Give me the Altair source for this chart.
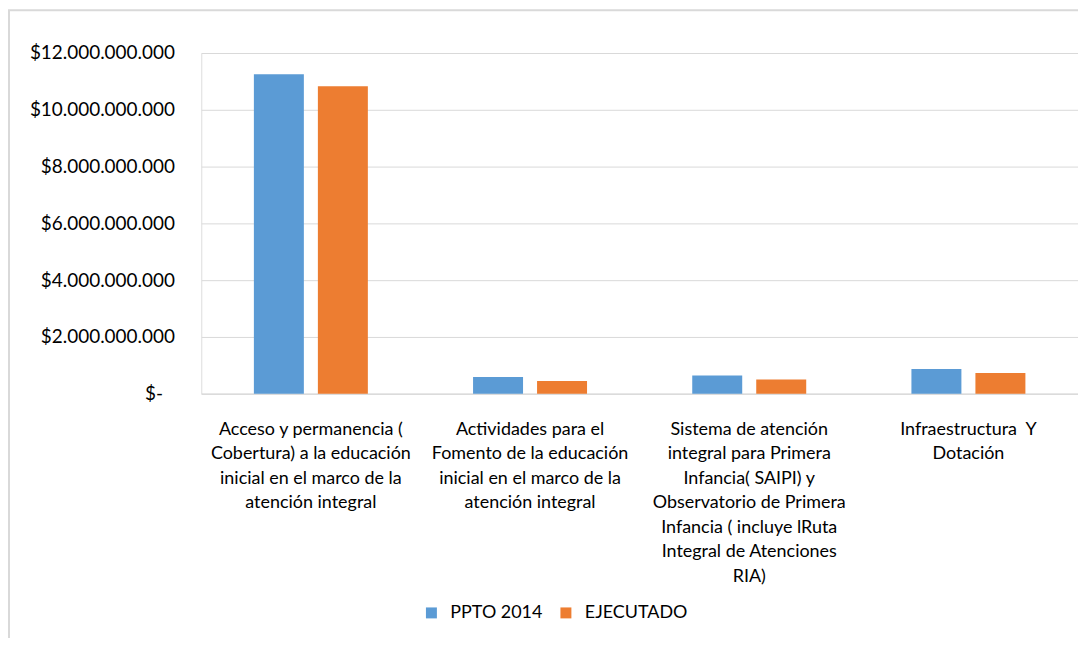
import altair as alt
import pandas as pd

categories = [
    "Acceso y permanencia (\nCobertura) a la educación\ninicial en el marco de la\natención integral",
    "Actividades para el\nFomento de la educación\ninicial en el marco de la\natención integral",
    "Sistema de atención\nintegral para Primera\nInfancia( SAIPI) y\nObservatorio de Primera\nInfancia ( incluye lRuta\nIntegral de Atenciones\nRIA)",
    "Infraestructura\u00a0 Y\nDotación",
]
series = ["PPTO 2014", "EJECUTADO"]
ppto_2014 = [11.25e9, 0.59e9, 0.64e9, 0.87e9]
ejecutado = [10.83e9, 0.45e9, 0.50e9, 0.73e9]
y_ticks = [0, 2e9, 4e9, 6e9, 8e9, 10e9, 12e9]
colors = ["#5B9BD5", "#ED7D31"]

rows = []
for c, p, e in zip(categories, ppto_2014, ejecutado):
    rows.append({"cat": c, "serie": series[0], "valor": p})
    rows.append({"cat": c, "serie": series[1], "valor": e})
df = pd.DataFrame(rows)

W, H = 880, 342
FONT = "Lato"

y_label_expr = (
    "datum.value == 0 ? '$-' : '$' + "
    "replace(replace(replace(format(datum.value, ','), ',', '.'), ',', '.'), ',', '.')"
)

bars = alt.Chart(df).mark_bar().encode(
    x=alt.X(
        "cat:N",
        sort=categories,
        scale=alt.Scale(paddingInner=0.48, paddingOuter=0.24),
        axis=alt.Axis(
            title=None,
            labelAngle=0,
            labelExpr="split(datum.label, '\\n')",
            labelFont=FONT,
            labelFontSize=18,
            labelColor="#000000",
            labelLineHeight=24.5,
            labelPadding=27,
            labelBaseline="top",
            ticks=False,
            tickSize=0,
            domainColor="#d9d9d9",
            domainWidth=1,
            labelLimit=0,
        ),
    ),
    xOffset=alt.XOffset("serie:N", sort=series, scale=alt.Scale(paddingInner=0.219)),
    y=alt.Y(
        "valor:Q",
        scale=alt.Scale(domain=[0, 12e9]),
        axis=alt.Axis(
            values=y_ticks,
            title=None,
            labelExpr=y_label_expr,
            grid=True,
            gridColor="#d9d9d9",
            domain=False,
            ticks=False,
            tickSize=0,
            labelPadding={"condition": {"test": "datum.value == 0", "value": 39}, "value": 27},
            labelFont=FONT,
            labelFontSize=19,
            labelColor="#000000",
        ),
    ),
    color=alt.Color(
        "serie:N",
        sort=series,
        scale=alt.Scale(domain=series, range=colors),
        legend=alt.Legend(
            orient="none",
            legendX=222,
            legendY=553,
            direction="horizontal",
            title=None,
            symbolType="square",
            symbolSize=121,
            symbolStrokeWidth=0,
            labelFont=FONT,
            labelFontSize=18,
            labelColor="#000000",
            columnPadding=14,
            labelOffset=10,
        ),
    ),
)

frame = alt.Chart(pd.DataFrame({"f": [0]})).mark_rect(
    fill="transparent", stroke="#d9d9d9", strokeWidth=2
).encode(
    x=alt.value(-193),
    x2=alt.value(W + 40),
    y=alt.value(-43),
    y2=alt.value(H + 300),
)

chart = alt.layer(frame, bars).properties(
    width=W,
    height=H,
    padding={"left": 194, "top": 44, "right": 0, "bottom": 244},
    autosize=alt.AutoSizeParams(type="none"),
).configure_view(stroke=None).configure(background="white")

chart.save("out.html", embed_options={"renderer": "svg", "actions": False})
